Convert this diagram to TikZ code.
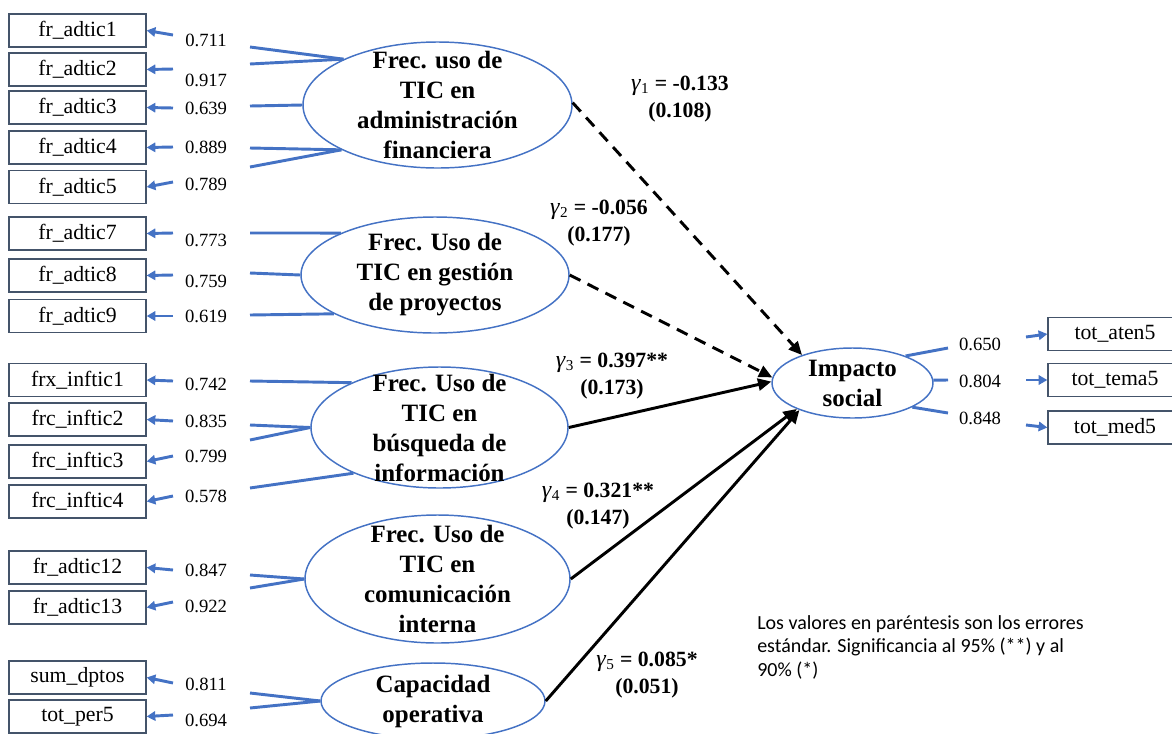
\documentclass[tikz,border=0pt]{standalone}
\usepackage{fontspec}
\setmainfont{Liberation Serif}
\newfontfamily\notefont{Carlito}
\usetikzlibrary{shapes.geometric,arrows.meta}
\definecolor{sblue}{RGB}{68,114,196}
\definecolor{boxgray}{RGB}{68,84,106}
\begin{document}
\begin{tikzpicture}[x=0.75pt,y=-0.75pt,
 obs/.style={draw=boxgray, line width=1pt, minimum width=102.75pt, minimum height=24.75pt, inner sep=0pt, font=\fontsize{16.3}{18}\selectfont},
 robs/.style={obs, minimum width=100.5pt},
 lat/.style={ellipse, draw=sblue, line width=1.1pt, inner sep=0pt},
 lattext/.style={font=\fontsize{18.7}{22.5}\selectfont\bfseries, align=center, inner sep=0pt},
 loadline/.style={draw=sblue, line width=2.2pt},
 errarrow/.style={draw=sblue, line width=2.2pt, -{Triangle[length=6.5pt,width=7pt]}},
 num/.style={font=\fontsize{14}{16}\selectfont, inner sep=0pt},
 struct/.style={draw=black, line width=2.2pt, -{Triangle[length=10pt,width=9pt]}},
 dstruct/.style={struct, dash pattern=on 9pt off 6pt},
 coef/.style={font=\fontsize{16.3}{20.25}\selectfont, align=center, inner sep=0pt},
]
\useasboundingbox (0,0) rectangle (1172,733);
\clip (0,0) rectangle (1172,733);

% observed indicators (left)
\node[obs] (b1) at (77.5,30.5) {fr\_adtic1};
\node[obs] (b2) at (77.5,69.5) {fr\_adtic2};
\node[obs] (b3) at (77.5,107.5) {fr\_adtic3};
\node[obs] (b4) at (77.5,147.5) {fr\_adtic4};
\node[obs] (b5) at (77.5,187) {fr\_adtic5};
\node[obs] (b7) at (77.5,233.5) {fr\_adtic7};
\node[obs] (b8) at (77.5,275.5) {fr\_adtic8};
\node[obs] (b9) at (77.5,316) {fr\_adtic9};
\node[obs] (bi1) at (77.5,380) {frx\_inftic1};
\node[obs] (bi2) at (77.5,419.5) {frc\_inftic2};
\node[obs] (bi3) at (77.5,461.5) {frc\_inftic3};
\node[obs] (bi4) at (77.5,501.5) {frc\_inftic4};
\node[obs] (b12) at (77.5,567.5) {fr\_adtic12};
\node[obs] (b13) at (77.5,607.5) {fr\_adtic13};
\node[obs] (bs) at (77.5,677.5) {sum\_dptos};
\node[obs] (bt) at (77.5,716.5) {tot\_per5};

% observed indicators (right)
\node[robs] (r1) at (1115,334) {tot\_aten5};
\node[robs] (r2) at (1115,380) {tot\_tema5};
\node[robs] (r3) at (1115,427.5) {tot\_med5};

% latent variables
\node[lat, minimum width=201.75pt, minimum height=94.5pt,
  label={[lattext]center:{Frec. uso de\\TIC en\\administración\\financiera}}] (f1) at (437.5,105) {};
\node[lat, minimum width=201pt, minimum height=87pt,
  label={[lattext]center:{Frec. Uso de\\TIC en gestión\\de proyectos}}] (f2) at (435,275) {};
\node[lat, minimum width=192.75pt, minimum height=90.75pt,
  label={[lattext]center:{Frec. Uso de\\TIC en\\búsqueda de\\información}}] (f3) at (439.5,427.5) {};
\node[lat, minimum width=198.75pt, minimum height=96pt,
  label={[lattext]center:{Frec. Uso de\\TIC en\\comunicación\\interna}}] (f4) at (437.5,579) {};
\node[lat, minimum width=168pt, minimum height=57pt,
  label={[lattext]center:{Capacidad\\operativa}}] (f5) at (433,701) {};
\node[lat, minimum width=120.75pt, minimum height=52.5pt,
  label={[lattext]center:{Impacto\\social}}] (imp) at (852.5,383) {};

% free ends of loading lines (left)
\coordinate (l1) at (250,47);
\coordinate (l2) at (250,64);
\coordinate (l3) at (250,106);
\coordinate (l4) at (250,148);
\coordinate (l5) at (250,167);
\coordinate (l7) at (250,233);
\coordinate (l8) at (250,273);
\coordinate (l9) at (250,315);
\coordinate (li1) at (250,381);
\coordinate (li2) at (250,425);
\coordinate (li3) at (250,440);
\coordinate (li4) at (250,488);
\coordinate (l12) at (250,575);
\coordinate (l13) at (250,588);
\coordinate (ls) at (250,693);
\coordinate (lt) at (250,708);

\draw[loadline] (f1.154.5) -- (l1);
\draw[loadline] (f1.154.5) -- (l2);
\draw[loadline] (f1.180) -- (l3);
\draw[loadline] (f1.205) -- (l4);
\draw[loadline] (f1.205) -- (l5);
\draw[loadline] (f2.156) -- (l7);
\draw[loadline] (f2.180) -- (l8);
\draw[loadline] (f2.201) -- (l9);
\draw[loadline] (f3.153.6) -- (li1);
\draw[loadline] (f3.180) -- (li2);
\draw[loadline] (f3.180) -- (li3);
\draw[loadline] (f3.208) -- (li4);
\draw[loadline] (f4.180) -- (l12);
\draw[loadline] (f4.180) -- (l13);
\draw[loadline] (f5.180) -- (ls);
\draw[loadline] (f5.180) -- (lt);

% loading values (left)
\node[num] (n1) at (206,40) {0.711};
\node[num] (n2) at (206,80) {0.917};
\node[num] (n3) at (206,108) {0.639};
\node[num] (n4) at (206,147) {0.889};
\node[num] (n5) at (206,184) {0.789};
\node[num] (n7) at (206,240) {0.773};
\node[num] (n8) at (206,281) {0.759};
\node[num] (n9) at (206,316) {0.619};
\node[num] (ni1) at (206,384) {0.742};
\node[num] (ni2) at (206,421) {0.835};
\node[num] (ni3) at (206,456) {0.799};
\node[num] (ni4) at (206,496) {0.578};
\node[num] (n12) at (206,570) {0.847};
\node[num] (n13) at (206,606) {0.922};
\node[num] (ns) at (206,684) {0.811};
\node[num] (nt) at (206,720) {0.694};

% short arrows to indicators (left)
\coordinate (a1) at (173,35);
\coordinate (a2) at (173,69);
\coordinate (a3) at (173,108);
\coordinate (a4) at (173,147);
\coordinate (a5) at (173,182);
\coordinate (a7) at (173,233);
\coordinate (a8) at (173,275);
\coordinate (a9) at (173,316);
\coordinate (ai1) at (173,381);
\coordinate (ai2) at (173,421);
\coordinate (ai3) at (173,456);
\coordinate (ai4) at (173,496);
\coordinate (a12) at (173,570);
\coordinate (a13) at (173,602);
\coordinate (as) at (173,683);
\coordinate (at) at (173,715);
\draw[errarrow] (a1) -- (b1.east);
\draw[errarrow] (a2) -- (b2.east);
\draw[errarrow] (a3) -- (b3.east);
\draw[errarrow] (a4) -- (b4.east);
\draw[errarrow] (a5) -- (b5.east);
\draw[errarrow] (a7) -- (b7.east);
\draw[errarrow] (a8) -- (b8.east);
\draw[errarrow] (a9) -- (b9.east);
\draw[errarrow] (ai1) -- (bi1.east);
\draw[errarrow] (ai2) -- (bi2.east);
\draw[errarrow] (ai3) -- (bi3.east);
\draw[errarrow] (ai4) -- (bi4.east);
\draw[errarrow] (a12) -- (b12.east);
\draw[errarrow] (a13) -- (b13.east);
\draw[errarrow] (as) -- (bs.east);
\draw[errarrow] (at) -- (bt.east);

% right side
\coordinate (q1) at (948,348);
\coordinate (q2) at (948,380);
\coordinate (q3) at (948,413);
\draw[loadline] (imp.27.5) -- (q1);
\draw[loadline] (imp.2) -- (q2);
\draw[loadline] (imp.-22.7) -- (q3);
\node[num] (m1) at (980,344) {0.650};
\node[num] (m2) at (980,381) {0.804};
\node[num] (m3) at (980,418) {0.848};
\coordinate (p1) at (1026,337);
\coordinate (p2) at (1026,380);
\coordinate (p3) at (1026,425);
\draw[errarrow] (p1) -- (r1.west);
\draw[errarrow] (p2) -- (r2.west);
\draw[errarrow] (p3) -- (r3.west);

% structural paths
\draw[dstruct] (f1.1) -- (imp.151.7);
\draw[dstruct] (f2.east) -- (imp.176);
\draw[struct] (f3.east) -- (imp.179);
\draw[struct] (f4.east) -- (imp.205);
\draw[struct] (f5.east) -- (imp.207);

% coefficients
\node[coef] (g1) at (680,99) {{\fontsize{18}{20}\selectfont\textit{γ}}\textsubscript{1} \textbf{= -0.133}\\\textbf{(0.108)}};
\node[coef] (g2) at (599,223) {{\fontsize{18}{20}\selectfont\textit{γ}}\textsubscript{2} \textbf{= -0.056}\\\textbf{(0.177)}};
\node[coef] (g3) at (612,376) {{\fontsize{18}{20}\selectfont\textit{γ}}\textsubscript{3} \textbf{= 0.397**}\\\textbf{(0.173)}};
\node[coef] (g4) at (598,506) {{\fontsize{18}{20}\selectfont\textit{γ}}\textsubscript{4} \textbf{= 0.321**}\\\textbf{(0.147)}};
\node[coef] (g5) at (647,675) {{\fontsize{18}{20}\selectfont\textit{γ}}\textsubscript{5} \textbf{= 0.085*}\\\textbf{(0.051)}};

% note
\node[anchor=west, align=left, inner sep=0pt, font=\notefont\fontsize{15}{17.6}\selectfont] (note) at (757,647)
 {Los valores en paréntesis son los errores\\estándar. Significancia al 95\% (**) y al\\90\% (*)};
\end{tikzpicture}
\end{document}
